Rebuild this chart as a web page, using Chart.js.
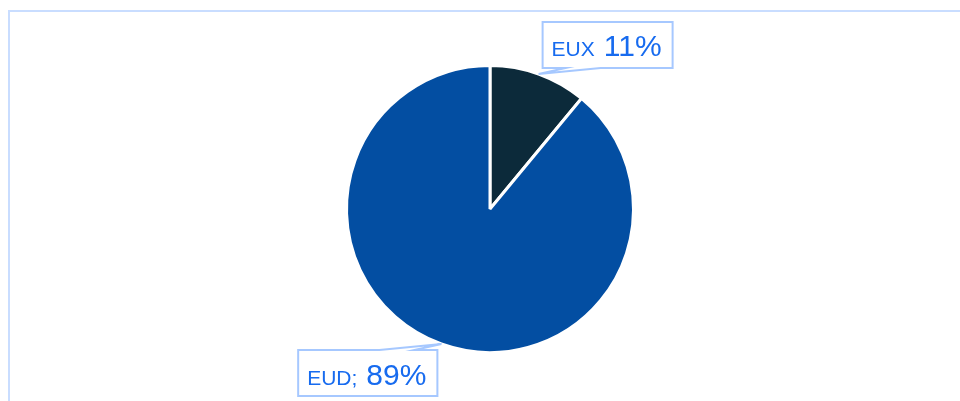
<!DOCTYPE html>
<html>
<head>
<meta charset="utf-8">
<script src="https://cdn.jsdelivr.net/npm/chart.js@4"></script>
<style>
	body { margin: 0; width: 960px; height: 401px; overflow: hidden; background: #fff; }
	#frame { position: absolute; left: 8px; top: 10px; width: 1000px; height: 500px; border: 2px solid #c9ddff; }
	#pie { position: absolute; left: 0; top: 0; }
</style>
</head>
<body>
<div id="frame"></div>
<canvas id="pie" width="960" height="401"></canvas>
<script>
// values
const categories = ['EUX', 'EUD'];
const calloutNames = ['EUX', 'EUD;'];
const shares = [11, 89];
const sliceColors = ['#0c2a3a', '#034ea2'];

/**
 * Draws the boxed callout labels next to each slice
 */
const calloutPlugin = {
	id: 'callouts',
	afterDraw(chart) {
		const ctx = chart.ctx;
		const meta = chart.getDatasetMeta(0);
		const smallFont = '21px Arial, "Liberation Sans", sans-serif';
		const bigFont = '30px Arial, "Liberation Sans", sans-serif';

		meta.data.forEach((arc, i) => {
			const p = arc.getProps(['x', 'y', 'startAngle', 'endAngle', 'outerRadius'], true);
			const mid = (p.startAngle + p.endAngle) / 2;
			const tipX = p.x + Math.cos(mid) * p.outerRadius;
			const tipY = p.y + Math.sin(mid) * p.outerRadius;
			const onRight = tipX >= p.x;

			const name = calloutNames[i];
			const pct = shares[i] + '%';
			ctx.font = smallFont;
			const nameW = ctx.measureText(name).width;
			ctx.font = bigFont;
			const pctW = ctx.measureText(pct).width;
			const gap = 9;
			const boxW = 9 + nameW + gap + pctW + 11;
			const boxH = 46;

			let left, top;
			if (onRight) {
				left = tipX + 4;
				top = tipY - 6 - boxH;
			} else {
				left = tipX - 4 - boxW;
				top = tipY + 6;
			}
			const right = left + boxW;
			const bottom = top + boxH;

			// box with a thin tail pointing at the slice
			ctx.save();
			ctx.beginPath();
			if (onRight) {
				ctx.moveTo(left, top);
				ctx.lineTo(right, top);
				ctx.lineTo(right, bottom);
				ctx.lineTo(left + 58, bottom);
				ctx.lineTo(tipX, tipY);
				ctx.lineTo(left + 23, bottom);
				ctx.lineTo(left, bottom);
			} else {
				ctx.moveTo(right, bottom);
				ctx.lineTo(left, bottom);
				ctx.lineTo(left, top);
				ctx.lineTo(right - 58, top);
				ctx.lineTo(tipX, tipY);
				ctx.lineTo(right - 23, top);
				ctx.lineTo(right, top);
			}
			ctx.closePath();
			ctx.fillStyle = '#ffffff';
			ctx.fill();
			ctx.lineWidth = 2;
			ctx.strokeStyle = '#a6c8ff';
			ctx.stroke();

			const baseline = bottom - 11.5;
			ctx.fillStyle = '#176bef';
			ctx.textBaseline = 'alphabetic';
			ctx.textAlign = 'left';
			ctx.font = smallFont;
			ctx.fillText(name, left + 9, baseline);
			ctx.font = bigFont;
			ctx.fillText(pct, left + 9 + nameW + gap, baseline);
			ctx.restore();
		});
	}
};

const chart = new Chart(document.getElementById('pie').getContext('2d'),
{
	type: 'pie',
	data: {
		labels: categories,
		datasets: [{
			data: shares,
			backgroundColor: sliceColors,
			borderColor: '#ffffff',
			borderWidth: 3,
			hoverOffset: 0,
			offset: 0
		}]
	},
	options: {
		responsive: false,
		devicePixelRatio: 1,
		animation: false,
		layout: {
			padding: { left: 345, right: 325, top: 64, bottom: 47 }
		},
		plugins: {
			legend: { display: false },
			tooltip: { enabled: false }
		}
	},
	plugins: [calloutPlugin]
});
</script>
</body>
</html>
